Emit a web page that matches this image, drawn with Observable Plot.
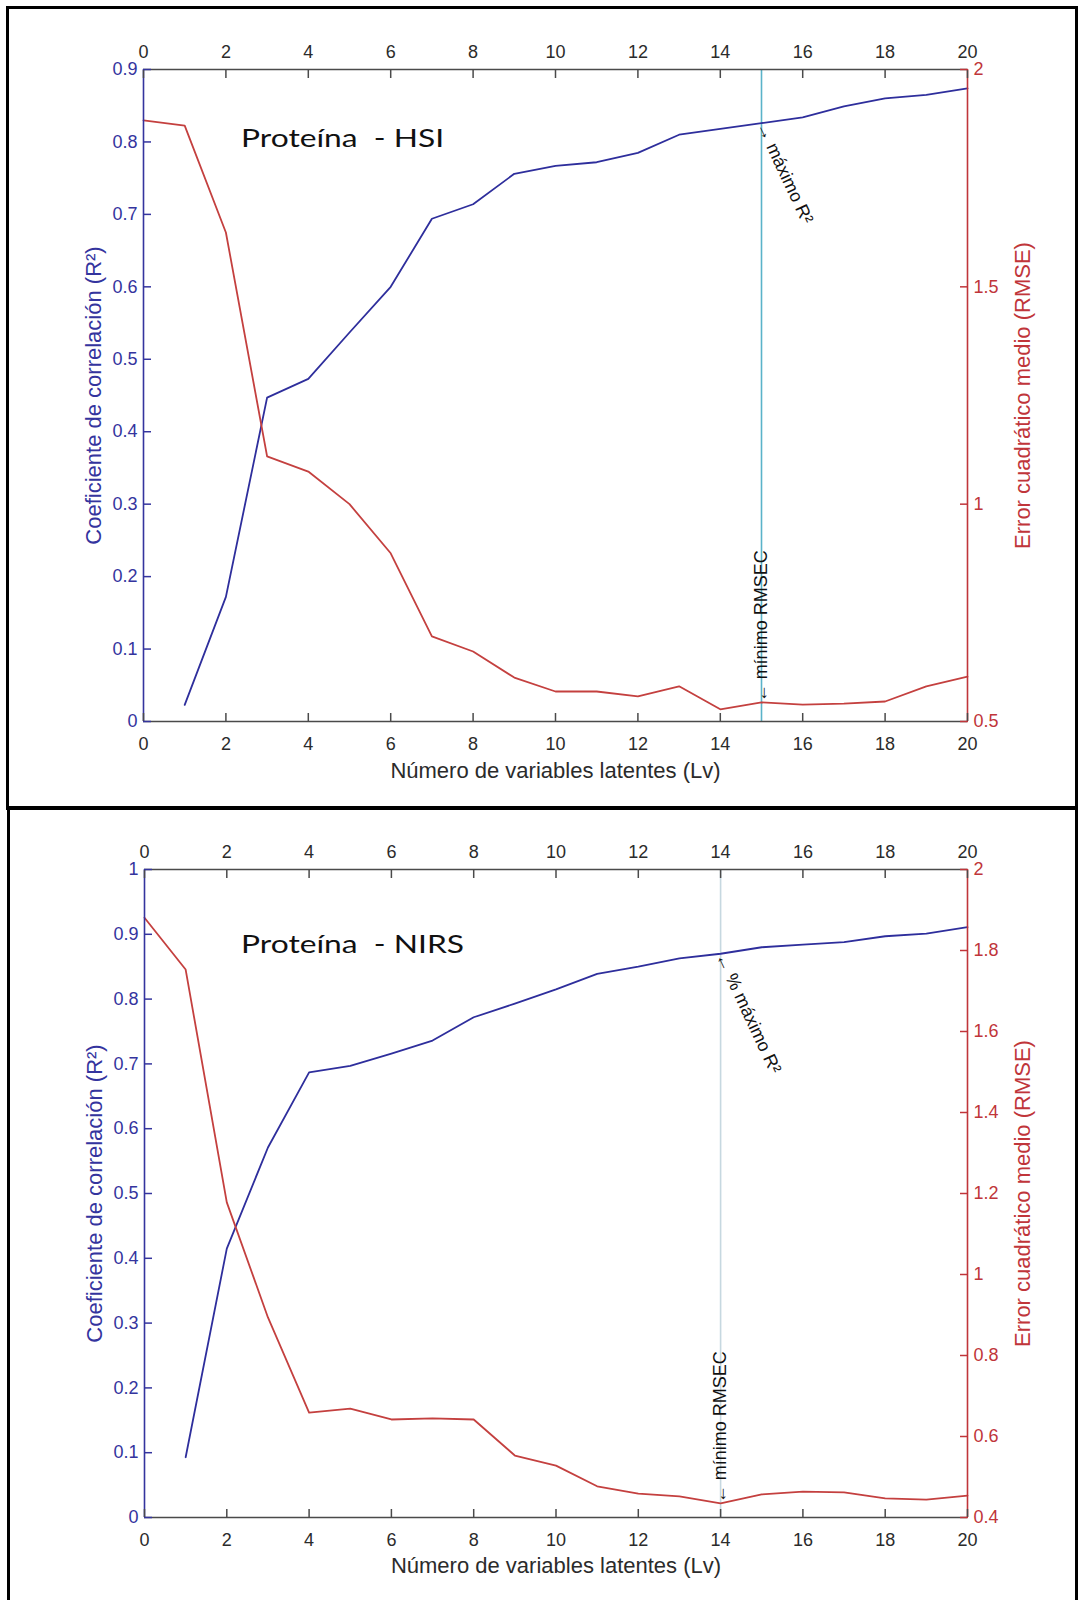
<!DOCTYPE html>
<html>
<head>
<meta charset="utf-8">
<script src="https://cdn.jsdelivr.net/npm/d3@7"></script>
<script src="https://cdn.jsdelivr.net/npm/@observablehq/plot@0.6"></script>
<style>
  body { margin: 0; background: #fff; width: 1078px; height: 1600px; position: relative; overflow: hidden; }
  .panel { position: absolute; left: 0; width: 1078px; height: 800px; }
  .panel svg { position: absolute; left: 0; top: 0; }
  .border { position: absolute; box-sizing: border-box; border: 3px solid #000; }
  .title { position: absolute; font-family: Lato, "Open Sans", sans-serif; font-size: 25px; line-height: 1;
           white-space: pre; color: #111; transform-origin: 0 0; transform: scaleX(1.27); }
</style>
</head>
<body>
<div id="p1" class="panel" style="top:0px">
  <div class="border" style="left:6px;top:6px;width:1072px;height:804px"></div>
</div>
<div id="p2" class="panel" style="top:800px">
  <div class="border" style="left:7px;top:6px;width:1071px;height:820px"></div>
</div>
<script>
// ---------- data ----------
const lv = [0, 1, 2, 3, 4, 5, 6, 7, 8, 9, 10, 11, 12, 13, 14, 15, 16, 17, 18, 19, 20];
const xTicks = [0, 2, 4, 6, 8, 10, 12, 14, 16, 18, 20];
const xDomain = [0, 20];

// Proteína - HSI
const titleHSI = "Proteína  - HSI";
const r2HSI = [null, 0.023, 0.172, 0.447, 0.473, 0.537, 0.600, 0.694, 0.714, 0.756, 0.767,
               0.772, 0.785, 0.810, 0.818, 0.826, 0.834, 0.849, 0.860, 0.865, 0.874];
const rmseHSI = [1.883, 1.871, 1.625, 1.110, 1.075, 1.000, 0.887, 0.696, 0.661, 0.601, 0.569,
                 0.569, 0.558, 0.581, 0.528, 0.544, 0.539, 0.541, 0.546, 0.581, 0.603];
const r2DomainHSI = [0, 0.9];
const rmseDomainHSI = [0.5, 2];
const r2TicksHSI = [0, 0.1, 0.2, 0.3, 0.4, 0.5, 0.6, 0.7, 0.8, 0.9];
const rmseTicksHSI = [0.5, 1, 1.5, 2];
const markR2HSI = 15, markRmseHSI = 15;
const noteR2HSI = "→ máximo R²";

// Proteína - NIRS
const titleNIRS = "Proteína  - NIRS";
const r2NIRS = [null, 0.093, 0.415, 0.571, 0.687, 0.697, 0.716, 0.736, 0.772, 0.793, 0.815,
                0.839, 0.850, 0.863, 0.870, 0.880, 0.884, 0.888, 0.897, 0.901, 0.911];
const rmseNIRS = [1.881, 1.753, 1.178, 0.894, 0.659, 0.669, 0.642, 0.645, 0.642, 0.553, 0.528,
                  0.477, 0.459, 0.452, 0.435, 0.457, 0.464, 0.462, 0.447, 0.444, 0.454];
const r2DomainNIRS = [0, 1];
const rmseDomainNIRS = [0.4, 2];
const r2TicksNIRS = [0, 0.1, 0.2, 0.3, 0.4, 0.5, 0.6, 0.7, 0.8, 0.9, 1];
const rmseTicksNIRS = [0.4, 0.6, 0.8, 1, 1.2, 1.4, 1.6, 1.8, 2];
const markR2NIRS = 14, markRmseNIRS = 14;
const noteR2NIRS = "← % máximo R²";

const noteRmse = "← mínimo RMSEC";
const xLabel = "Número de variables latentes (Lv)";
const yLabelLeft = "Coeficiente de correlación (R²)";
const yLabelRight = "Error cuadrático medio (RMSE)";

// ---------- style ----------
const BLUE = "#2e2e9c", BLUE_AX = "#34349e", RED = "#c4403f", RED_AX = "#c0353a", GRAY = "#4a4a4a", TXT = "#2b2b2b";
const FONT = "'Liberation Sans', Arial, Helvetica, sans-serif";

function drawPanel(el, o) {
  const toY = d3.scaleLinear(o.rmseDomain, o.r2Domain);
  const rows = lv.map((x, i) => ({x, r2: o.r2[i], rmse: toY(o.rmse[i])}));
  const fmt = d3.format("~g");
  const svg = Plot.plot({
    width: 1078, height: 800,
    marginLeft: o.ml, marginRight: o.mr, marginTop: o.mt, marginBottom: o.mb,
    x: {domain: xDomain},
    y: {domain: o.r2Domain},
    style: {fontFamily: FONT, fontSize: "18px", background: "transparent", overflow: "visible"},
    marks: [
      Plot.ruleX([o.markR2], {stroke: o.vColor, strokeWidth: 1.6}),
      Plot.line(rows.filter(d => d.r2 != null), {x: "x", y: "r2", stroke: BLUE, strokeWidth: 1.8}),
      Plot.line(rows, {x: "x", y: "rmse", stroke: RED, strokeWidth: 1.8}),
      Plot.ruleY([o.r2Domain[0]], {stroke: GRAY, strokeWidth: 1.6}),
      Plot.ruleY([o.r2Domain[1]], {stroke: GRAY, strokeWidth: 1.6}),
      Plot.ruleX([xDomain[0]], {stroke: BLUE_AX, strokeWidth: 1.6}),
      Plot.ruleX([xDomain[1]], {stroke: RED_AX, strokeWidth: 1.6}),
      Plot.axisX(xTicks, {anchor: "bottom", tickSize: -8, tickPadding: 24, stroke: GRAY, fill: TXT, label: null, strokeWidth: 1.5}),
      Plot.axisX(xTicks, {anchor: "top", tickSize: -8, tickPadding: 20, stroke: GRAY, fill: TXT, label: null, strokeWidth: 1.5}),
      Plot.axisY(o.r2Ticks, {anchor: "left", tickSize: -8, tickPadding: 14, stroke: BLUE_AX, fill: BLUE_AX, label: null, tickFormat: fmt, strokeWidth: 1.5}),
      Plot.axisY(o.rmseTicks.map(toY), {anchor: "right", tickSize: -8, tickPadding: 14, stroke: RED_AX, fill: RED_AX, label: null,
        tickFormat: d => fmt(+toY.invert(d).toFixed(3)), strokeWidth: 1.5}),
      Plot.text([{x: o.markR2, y: o.r2[o.markR2]}], {x: "x", y: "y", text: () => o.noteR2, rotate: 65,
        textAnchor: "start", lineAnchor: "middle", fill: "#111", fontSize: 18}),
      Plot.text([{x: o.markRmse, y: toY(o.rmse[o.markRmse])}], {x: "x", y: "y", text: () => noteRmse, rotate: -90,
        textAnchor: "start", lineAnchor: "middle", fill: "#111", fontSize: 18}),
      Plot.text([yLabelLeft], {text: d => d, frameAnchor: "left", dx: -50, rotate: -90, textAnchor: "middle",
        lineAnchor: "middle", fill: BLUE_AX, fontSize: 22}),
      Plot.text([yLabelRight], {text: d => d, frameAnchor: "right", dx: 55, rotate: -90, textAnchor: "middle",
        lineAnchor: "middle", fill: RED_AX, fontSize: 22}),
      Plot.text([xLabel], {text: d => d, frameAnchor: "bottom", dy: o.xLabelDy, textAnchor: "middle",
        lineAnchor: "middle", fill: TXT, fontSize: 22})
    ]
  });
  el.appendChild(svg);
  const t = document.createElement("div");
  t.className = "title";
  t.textContent = o.title;
  t.style.left = "241px";
  t.style.top = o.titleTop + "px";
  el.appendChild(t);
}

drawPanel(document.getElementById("p1"), {
  title: titleHSI, titleTop: 125, r2: r2HSI, rmse: rmseHSI, r2Domain: r2DomainHSI, rmseDomain: rmseDomainHSI,
  r2Ticks: r2TicksHSI, rmseTicks: rmseTicksHSI, markR2: markR2HSI, markRmse: markRmseHSI, noteR2: noteR2HSI,
  vColor: "#5ab3c9", ml: 143, mr: 111, mt: 69, mb: 79, xLabelDy: 49
});
drawPanel(document.getElementById("p2"), {
  title: titleNIRS, titleTop: 131, r2: r2NIRS, rmse: rmseNIRS, r2Domain: r2DomainNIRS, rmseDomain: rmseDomainNIRS,
  r2Ticks: r2TicksNIRS, rmseTicks: rmseTicksNIRS, markR2: markR2NIRS, markRmse: markRmseNIRS, noteR2: noteR2NIRS,
  vColor: "#c6d8e0", ml: 144, mr: 111, mt: 69, mb: 83, xLabelDy: 48
});
</script>
</body>
</html>
